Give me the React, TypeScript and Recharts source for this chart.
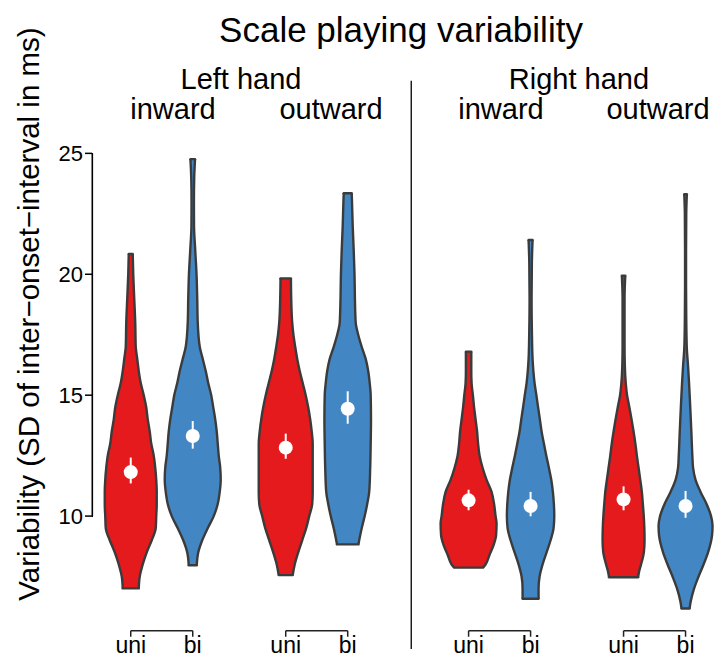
import React from 'react';
import {
  ComposedChart,
  Area,
  Scatter,
  XAxis,
  YAxis,
  ReferenceLine,
  Customized,
} from 'recharts';

const FONT = '"Liberation Sans", Arial, Helvetica, sans-serif';
const RED = '#E41A1C';
const BLUE = '#4287C3';
const OUTLINE = '#3b3b3b';

// x positions of the eight violins (hand / direction / uni-bi dodge)
const positions = [0.8, 1.2, 1.8, 2.2, 2.98, 3.38, 3.98, 4.38];
const conditions = ['uni', 'bi', 'uni', 'bi', 'uni', 'bi', 'uni', 'bi'];
const yTicks = [10, 15, 20, 25];

// mean and interval per violin
const means = [11.82, 13.31, 12.83, 14.44, 10.65, 10.42, 10.69, 10.42];
const ciLow = [11.35, 12.79, 12.37, 13.82, 10.24, 9.99, 10.24, 9.93];
const ciHigh = [12.42, 13.93, 13.41, 15.16, 11.09, 11.0, 11.23, 11.04];

// violin outlines: [value, density]
const leftInwardUni = [
  [7.01, 8], [7.5, 9], [8.0, 12], [8.5, 16], [9.0, 21], [9.5, 25], [10.0, 25.5],
  [10.5, 26], [11.0, 26], [11.5, 25.5], [12.0, 24.5], [12.5, 23], [13.0, 20.5],
  [13.5, 19], [14.0, 17], [14.5, 15.5], [15.0, 13], [15.5, 10], [16.0, 8],
  [16.5, 6.5], [17.0, 5], [18.0, 4.5], [19.0, 3.5], [20.0, 2.5], [20.84, 2],
];
const leftInwardBi = [
  [7.97, 4], [8.5, 5.5], [9.0, 9.5], [9.5, 15], [10.0, 21], [10.5, 25], [11.0, 27],
  [11.5, 28], [12.0, 27.5], [12.5, 26], [13.0, 25], [13.5, 24], [14.0, 22.5],
  [14.5, 20.5], [15.0, 18.5], [15.5, 15.5], [16.0, 13], [16.5, 10], [17.0, 7],
  [18.0, 5], [19.0, 4.5], [20.0, 3.8], [21.0, 2.5], [22.0, 1.3], [23.0, 1.2],
  [24.0, 1.5], [24.76, 2.3],
];
const leftOutwardUni = [
  [7.56, 7], [8.0, 9], [8.5, 12.5], [9.0, 16.5], [9.5, 20.5], [10.0, 23.5],
  [10.5, 26.5], [11.0, 27], [11.5, 27], [12.0, 27], [12.5, 27], [13.0, 27],
  [13.5, 26], [14.0, 24.5], [14.5, 22.5], [15.0, 20], [15.5, 17], [16.0, 14],
  [16.5, 11.5], [17.0, 9.5], [17.5, 7.7], [18.0, 6.5], [19.0, 5.5], [19.83, 5.2],
];
const leftOutwardBi = [
  [8.83, 10.7], [9.0, 11.5], [9.5, 14], [10.0, 17], [10.5, 19.5], [11.0, 21.5],
  [12.0, 22.5], [13.0, 23], [14.0, 23.3], [15.0, 23], [15.5, 22], [16.0, 20.5],
  [16.5, 18], [17.0, 14], [17.5, 10.5], [18.0, 8], [19.0, 7.2], [20.0, 6.8],
  [21.0, 6], [22.0, 5], [23.0, 4.3], [23.35, 4],
];
const rightInwardUni = [
  [7.87, 14.5], [8.0, 17], [8.4, 21], [8.8, 25], [9.2, 27.5], [9.7, 28], [10.0, 27],
  [10.5, 25.5], [11.0, 23], [11.5, 18], [12.0, 14], [12.5, 11], [13.0, 9.5],
  [13.5, 8.5], [14.0, 7], [14.5, 5.5], [15.0, 4.3], [15.5, 3], [16.0, 2.7], [16.8, 2.7],
];
const rightInwardBi = [
  [6.58, 8], [7.0, 8], [7.5, 9], [8.0, 12], [8.5, 16], [9.0, 20], [9.5, 23],
  [10.0, 23.7], [10.5, 23.3], [11.0, 22.3], [11.5, 20.7], [12.0, 18.3], [12.5, 15.7],
  [13.0, 13.3], [13.5, 11], [14.0, 9.3], [14.5, 7.5], [15.0, 5.8], [15.5, 4],
  [16.0, 2.8], [16.5, 2], [17.7, 1.3], [19.0, 1], [20.5, 1.3], [21.42, 2],
];
const rightOutwardUni = [
  [7.47, 14.5], [7.7, 15.5], [8.0, 17.5], [8.5, 20.3], [9.0, 21], [9.5, 20.8],
  [10.0, 20.2], [10.5, 19.3], [11.0, 18.3], [11.5, 16.7], [12.0, 15], [12.5, 13.3],
  [13.0, 11.8], [13.5, 10], [14.0, 8], [14.5, 5.8], [15.0, 3.5], [15.6, 2],
  [16.2, 1.3], [17.0, 1], [18.0, 1], [19.0, 1], [19.94, 1.7],
];
const rightOutwardBi = [
  [6.18, 4], [6.5, 5.3], [7.0, 8.5], [7.5, 13], [8.0, 18], [8.5, 22.5], [9.2, 26.5],
  [9.6, 27], [10.0, 25.5], [10.5, 21], [11.0, 15], [11.5, 10], [12.0, 7.5],
  [12.5, 6.8], [13.5, 5.8], [14.5, 4.7], [15.5, 3.5], [16.2, 2.5], [17.0, 1.2],
  [18.2, 0.7], [19.5, 0.5], [21.0, 0.5], [22.5, 0.7], [23.31, 1.3],
];

const violins = [
  leftInwardUni, leftInwardBi, leftOutwardUni, leftOutwardBi,
  rightInwardUni, rightInwardBi, rightOutwardUni, rightOutwardBi,
];

const DENSITY_SCALE = 1 / 155;
const X_DOMAIN: [number, number] = [0.55, 4.57];
const AXIS_X = X_DOMAIN[0] + 0.002;
const DIVIDER_X = 2.61;
const BRACKET_Y = 5.26;
const BRACKET_TICK_Y = 5.01;

const violinData = violins.map((profile, i) =>
  [...profile]
    .sort((a, b) => a[0] - b[0])
    .map(([y, d]) => ({
      y,
      band: [positions[i] - d * DENSITY_SCALE, positions[i] + d * DENSITY_SCALE],
    }))
);

const meanData = means.map((m, i) => ({ x: positions[i], y: m }));

const MeanDot = (props: any) => <circle cx={props.cx} cy={props.cy} r={7} fill="#fff" />;

// titles, strip labels and the y label
const Headers = () => (
  <g fontFamily={FONT} fill="#000">
    <text x={401} y={42} fontSize={35} textAnchor="middle">
      Scale playing variability
    </text>
    <text x={241} y={89} fontSize={29} textAnchor="middle">Left hand</text>
    <text x={579} y={89} fontSize={29} textAnchor="middle">Right hand</text>
    <text x={173} y={119} fontSize={29} textAnchor="middle">inward</text>
    <text x={331} y={119} fontSize={29} textAnchor="middle">outward</text>
    <text x={501} y={119} fontSize={29} textAnchor="middle">inward</text>
    <text x={658} y={119} fontSize={29} textAnchor="middle">outward</text>
    <text transform="translate(39 314) rotate(-90)" fontSize={29.5} textAnchor="middle">
      Variability (SD of inter−onset−interval in ms)
    </text>
  </g>
);

export default function App() {
  const pairs = [0, 2, 4, 6];
  return (
    <div style={{ position: 'absolute', left: 0, top: 0, width: 715, height: 657, background: '#fff' }}>
      <ComposedChart
        width={715}
        height={657}
        layout="vertical"
        margin={{ top: 105, right: 0, bottom: 0, left: 0 }}
      >
        <XAxis
          type="number"
          domain={X_DOMAIN}
          allowDataOverflow
          ticks={positions}
          interval={0}
          tickFormatter={(_v: number, i: number) => conditions[i]}
          axisLine={false}
          tickLine={false}
          tickSize={0}
          tickMargin={0}
          height={20}
          tick={{ fontSize: 23, fill: '#000', fontFamily: FONT }}
        />
        <YAxis
          type="number"
          dataKey="y"
          domain={[5, 27]}
          reversed
          allowDataOverflow
          ticks={yTicks}
          interval={0}
          width={92}
          axisLine={false}
          tickLine={{ stroke: '#000', strokeWidth: 1.5 }}
          tickSize={7}
          tickMargin={2}
          tick={{ fontSize: 22, fill: '#000', fontFamily: FONT }}
        />
        <ReferenceLine
          segment={[
            { x: AXIS_X, y: yTicks[0] },
            { x: AXIS_X, y: yTicks[yTicks.length - 1] },
          ]}
          stroke="#000"
          strokeWidth={1.6}
          ifOverflow="visible"
        />
        {violinData.map((d, i) => (
          <Area
            key={`violin-${i}`}
            data={d}
            dataKey="band"
            type="monotone"
            fill={i % 2 === 0 ? RED : BLUE}
            fillOpacity={1}
            stroke={OUTLINE}
            strokeWidth={2.4}
            dot={false}
            activeDot={false}
            isAnimationActive={false}
          />
        ))}
        {violinData.flatMap((d, i) =>
          [d[0], d[d.length - 1]].map((p, j) => (
            <ReferenceLine
              key={`cap-${i}-${j}`}
              segment={[
                { x: p.band[0], y: p.y },
                { x: p.band[1], y: p.y },
              ]}
              stroke={OUTLINE}
              strokeWidth={2.4}
              strokeLinecap="round"
              ifOverflow="visible"
            />
          ))
        )}
        {positions.map((x, i) => (
          <ReferenceLine
            key={`ci-${i}`}
            segment={[
              { x, y: ciLow[i] },
              { x, y: ciHigh[i] },
            ]}
            stroke="#fff"
            strokeWidth={2}
            ifOverflow="visible"
          />
        ))}
        <Scatter data={meanData} dataKey="x" shape={MeanDot} isAnimationActive={false} />
        <ReferenceLine
          segment={[
            { x: DIVIDER_X, y: 4.5 },
            { x: DIVIDER_X, y: 28 },
          ]}
          stroke="#111"
          strokeWidth={1.4}
          ifOverflow="visible"
        />
        {pairs.flatMap((i) => [
          <ReferenceLine
            key={`br-h-${i}`}
            segment={[
              { x: positions[i], y: BRACKET_Y },
              { x: positions[i + 1], y: BRACKET_Y },
            ]}
            stroke="#222"
            strokeWidth={1.5}
            ifOverflow="visible"
          />,
          <ReferenceLine
            key={`br-l-${i}`}
            segment={[
              { x: positions[i], y: BRACKET_Y },
              { x: positions[i], y: BRACKET_TICK_Y },
            ]}
            stroke="#222"
            strokeWidth={1.5}
            ifOverflow="visible"
          />,
          <ReferenceLine
            key={`br-r-${i}`}
            segment={[
              { x: positions[i + 1], y: BRACKET_Y },
              { x: positions[i + 1], y: BRACKET_TICK_Y },
            ]}
            stroke="#222"
            strokeWidth={1.5}
            ifOverflow="visible"
          />,
        ])}
        <Customized component={Headers} />
      </ComposedChart>
      {/* capped y axis line (10 to 25) laid over the chart */}
      <div
        style={{
          position: 'absolute',
          left: 91.5,
          top: 153,
          width: 1.7,
          height: 364,
          background: '#000',
          pointerEvents: 'none',
        }}
      />
    </div>
  );
}
